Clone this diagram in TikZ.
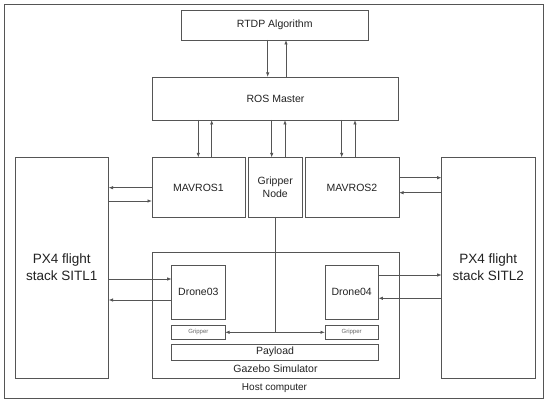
\documentclass[tikz,border=0pt]{standalone}
\usepackage{fontspec}
\setmainfont{Liberation Sans}
\usetikzlibrary{arrows.meta}
\definecolor{ln}{HTML}{555555}
\definecolor{tx}{HTML}{222222}
\tikzset{
  box/.style={draw=ln, line width=0.8pt, inner sep=0pt, outer sep=0pt, align=center, text=tx, font=\fontsize{10.5}{13}\selectfont},
  plain/.style={draw=ln, line width=0.8pt},
  arr/.style={draw=ln, line width=0.8pt, -{Latex[length=4.5pt,width=3.4pt]}},
  lbl/.style={inner sep=0pt, text=tx, font=\fontsize{10.5}{13}\selectfont},
}
\newcommand\bx[6]{\node[box, minimum width={(#4)-(#2)}, minimum height={(#5)-(#3)}] (#1) at ({((#2)+(#4))/2},{((#3)+(#5))/2}) {#6};}
\begin{document}
\begin{tikzpicture}[x=1pt,y=-1pt]
\useasboundingbox (0,0) rectangle (550,406);
\fill[white] (0,0) rectangle (550,406);
% outer frame
\bx{host}{4.5}{4.5}{543.5}{398.3}{}
\node[lbl, font=\fontsize{10}{12}\selectfont] (hostlbl) at (274.5,387.7) {Host computer};
% boxes
\bx{rtdp}{181.5}{10.5}{368}{40}{RTDP Algorithm}
\bx{ros}{152.5}{77}{398.5}{120}{ROS Master}
\bx{mav1}{152}{157.5}{245}{217.5}{MAVROS1}
\bx{gn}{248}{157.5}{302.5}{217.5}{Gripper\\Node}
\bx{mav2}{305}{157.5}{399}{217.5}{MAVROS2}
\node[box, font=\fontsize{13.5}{17}\selectfont, minimum width=93.5, minimum height=221] (px1) at (61.75,267.5) {PX4 flight\\stack SITL1};
\node[box, font=\fontsize{13.5}{17}\selectfont, minimum width=93.3, minimum height=221] (px2) at (488.35,267.5) {PX4 flight\\stack SITL2};
\bx{gz}{152}{252}{399}{378}{}
\node[lbl] (gzlbl) at (275.5,369) {Gazebo Simulator};
\bx{d3}{171.7}{265.5}{225}{319}{Drone03}
\bx{d4}{325}{265.5}{378.3}{319}{Drone04}
\node[box, font=\fontsize{6}{7}\selectfont, text=black!60, minimum width=53.3, minimum height=13.3] (g1) at (198.35,332.35) {Gripper};
\node[box, font=\fontsize{6}{7}\selectfont, text=black!60, minimum width=53.3, minimum height=13.3] (g2) at (351.65,332.35) {Gripper};
\bx{pay}{171.7}{344.3}{378.3}{360}{Payload}
% RTDP <-> ROS
\draw[arr] (rtdp.south -| 267.7,0) -- (ros.north -| 267.7,0);
\draw[arr] (ros.north -| 286,0) -- (rtdp.south -| 286,0);
% ROS <-> MAVROS1, Gripper Node, MAVROS2
\draw[arr] (ros.south -| 198.3,0) -- (mav1.north -| 198.3,0);
\draw[arr] (mav1.north -| 211.7,0) -- (ros.south -| 211.7,0);
\draw[arr] (ros.south -| 271.7,0) -- (gn.north -| 271.7,0);
\draw[arr] (gn.north -| 285,0) -- (ros.south -| 285,0);
\draw[arr] (ros.south -| 341.7,0) -- (mav2.north -| 341.7,0);
\draw[arr] (mav2.north -| 355,0) -- (ros.south -| 355,0);
% MAVROS1 <-> PX4 SITL1
\draw[arr] (mav1.west |- 0,187.7) -- (px1.east |- 0,187.7);
\draw[arr] (px1.east |- 0,201) -- (mav1.west |- 0,201);
% MAVROS2 <-> PX4 SITL2
\draw[arr] (mav2.east |- 0,177.7) -- (px2.west |- 0,177.7);
\draw[arr] (px2.west |- 0,192.7) -- (mav2.east |- 0,192.7);
% PX4 SITL1 <-> Drone03
\draw[arr] (px1.east |- 0,279) -- (d3.west |- 0,279);
\draw[arr] (d3.west |- 0,300) -- (px1.east |- 0,300);
% Drone04 <-> PX4 SITL2
\draw[arr] (d4.east |- 0,275) -- (px2.west |- 0,275);
\draw[arr] (px2.west |- 0,298.3) -- (d4.east |- 0,298.3);
% Gripper node to grippers
\coordinate (j) at (gn.south |- 0,332.3);
\draw[plain] (gn.south) -- (j);
\draw[arr] (j) -- (g1.east |- j);
\draw[arr] (j) -- (g2.west |- j);
\end{tikzpicture}
\end{document}
